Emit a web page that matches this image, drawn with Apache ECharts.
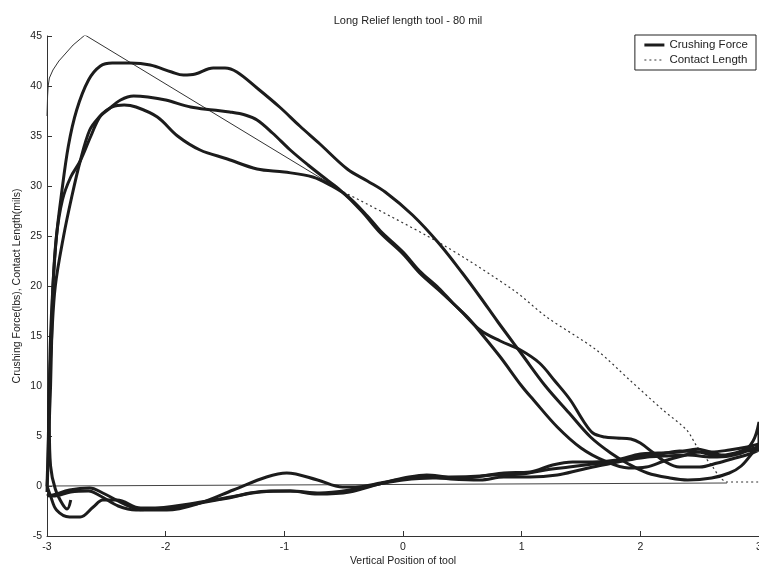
<!DOCTYPE html>
<html>
<head>
<meta charset="utf-8">
<script src="https://cdn.jsdelivr.net/npm/echarts@6/dist/echarts.min.js"></script>
<style>
html,body{margin:0;padding:0;background:#fff;}
#chart{width:759px;height:568px;}
</style>
</head>
<body>
<div id="chart"></div>
<script>
const titleText = 'Long Relief length tool - 80 mil';
const xName = 'Vertical Position of tool';
const yName = 'Crushing Force(lbs), Contact Length(mils)';

// Trace A (highest peak): loading then return
const loadA = [[-3.0,-0.6],[-2.99,3],[-2.98,10],[-2.97,15],[-2.95,20],[-2.92,25],[-2.88,29],[-2.82,34],[-2.75,37.6],[-2.65,40.6],[-2.55,42.0],[-2.45,42.3],[-2.3,42.3],[-2.13,42.1],[-1.95,41.4],[-1.85,41.1],[-1.75,41.2],[-1.6,41.8],[-1.5,41.8],[-1.4,41.4],[-1.23,39.8],[-1.04,37.9],[-0.87,36.0],[-0.7,34.2],[-0.47,31.7],[-0.3,30.5],[-0.15,29.4],[0.08,27.1],[0.3,24.3],[0.5,21.3],[0.65,18.9],[0.8,16.4],[1.0,13.2],[1.2,10.0],[1.4,7.3],[1.58,4.9],[1.75,3.3],[1.9,2.2],[2.06,1.3],[2.25,0.8],[2.4,0.6],[2.6,0.8],[2.75,1.3],[2.85,2.0],[2.95,3.4],[3.0,4.2]];
const returnA = [[2.9,3.9],[2.75,3.6],[2.6,3.4],[2.48,3.7],[2.33,3.4],[2.15,3.3],[2.0,3.2],[1.8,2.6],[1.6,2.4],[1.43,2.4],[1.26,2.1],[1.07,1.4],[0.85,1.3],[0.65,1.0],[0.4,0.9],[0.2,1.1],[0.05,0.9],[-0.19,0.3],[-0.4,-0.1],[-0.51,-0.1],[-0.72,0.6],[-0.98,1.3],[-1.15,0.9],[-1.43,-0.4],[-1.71,-1.7],[-1.99,-2.4],[-2.19,-2.4],[-2.33,-1.9],[-2.53,-0.7],[-2.64,-0.2],[-2.81,-0.4],[-2.95,-0.9],[-3.0,-1.0]];

// Trace B (middle peak)
const loadB = [[-3.0,0],[-2.99,4],[-2.98,10],[-2.96,15],[-2.93,20],[-2.86,25],[-2.79,29],[-2.72,32.5],[-2.64,35.6],[-2.56,36.9],[-2.49,37.6],[-2.38,38.6],[-2.27,39.0],[-2.15,38.9],[-2.0,38.6],[-1.79,37.9],[-1.6,37.6],[-1.46,37.4],[-1.33,37.1],[-1.23,36.6],[-1.1,35.3],[-0.95,33.6],[-0.8,32.1],[-0.65,30.7],[-0.53,29.6],[-0.35,27.5],[-0.19,25.3],[0.0,23.2],[0.14,21.3],[0.3,19.6],[0.48,17.6],[0.65,15.6],[0.82,14.5],[0.99,13.6],[1.15,12.3],[1.28,10.5],[1.41,8.6],[1.52,6.5],[1.6,5.3],[1.7,4.9],[1.8,4.8],[1.92,4.7],[2.0,4.3],[2.1,3.4],[2.2,2.5],[2.33,1.9],[2.5,1.9],[2.65,2.3],[2.8,2.8],[2.92,3.2],[3.0,3.6]];
const returnB = [[2.9,3.5],[2.75,3.0],[2.6,2.9],[2.4,3.1],[2.2,3.0],[2.06,2.9],[1.9,2.6],[1.77,2.3],[1.6,1.9],[1.49,1.6],[1.3,1.1],[1.07,0.9],[0.85,0.9],[0.65,0.6],[0.4,0.7],[0.2,0.9],[0.0,0.7],[-0.17,0.3],[-0.45,-0.6],[-0.72,-0.8],[-0.95,-0.5],[-1.12,-0.5],[-1.29,-0.7],[-1.43,-1.1],[-1.57,-1.4],[-1.8,-1.9],[-1.99,-2.2],[-2.21,-2.2],[-2.41,-1.4],[-2.53,-1.4],[-2.61,-2.1],[-2.72,-3.1],[-2.81,-3.1],[-2.92,-2.4],[-2.97,-1.0],[-3.0,0]];

// Trace C (lowest peak, with the hook at start)
const loadC = [[-2.8,-1.4],[-2.83,-2.3],[-2.87,-1.8],[-2.93,-0.3],[-2.97,2],[-2.98,6],[-2.97,10],[-2.96,15],[-2.95,20],[-2.92,25],[-2.87,28.6],[-2.8,30.9],[-2.72,32.5],[-2.63,35.0],[-2.55,37.0],[-2.45,37.9],[-2.35,38.1],[-2.25,37.9],[-2.07,36.9],[-1.9,35.0],[-1.71,33.6],[-1.48,32.7],[-1.23,31.7],[-1.0,31.4],[-0.76,30.9],[-0.6,30.0],[-0.47,29.0],[-0.3,27.0],[-0.19,25.5],[0.0,23.4],[0.14,21.5],[0.3,19.8],[0.42,18.3],[0.55,16.8],[0.65,15.4],[0.82,12.9],[1.0,10.0],[1.1,8.6],[1.3,5.9],[1.5,3.8],[1.7,2.5],[1.9,1.8],[2.05,1.9],[2.2,2.5],[2.35,3.0],[2.5,3.4],[2.7,3.1],[2.85,3.3],[2.95,4.5],[3.0,6.4],[3.0,3.9]];
const returnC = [[2.9,3.7],[2.8,3.3],[2.65,3.0],[2.5,3.4],[2.33,3.5],[2.17,3.2],[2.0,3.0],[1.83,2.5],[1.6,2.2],[1.4,1.9],[1.2,1.6],[1.0,1.2],[0.75,1.1],[0.5,0.8],[0.25,0.8],[0.0,0.6],[-0.2,0.2],[-0.45,-0.4],[-0.7,-0.7],[-0.95,-0.5],[-1.2,-0.6],[-1.5,-1.2],[-1.8,-1.8],[-2.05,-2.2],[-2.25,-2.4],[-2.4,-2.0],[-2.55,-1.0],[-2.65,-0.5],[-2.8,-0.6],[-2.95,-1.0],[-3.0,-0.8]];

// Contact length: solid early part, dotted remainder
const contactStart = [[-3.0,37.0],[-2.995,39.0],[-2.99,40.0],[-2.98,40.8],[-2.95,41.6],[-2.9,42.5],[-2.84,43.3],[-2.78,44.1],[-2.72,44.7],[-2.68,45.1],[-0.5,29.4]];
const contactLength = [[-0.5,29.4],[0.31,24.3],[0.93,19.6],[1.21,16.9],[1.63,13.6],[1.91,10.6],[2.19,7.6],[2.39,5.6],[2.48,3.9],[2.61,1.9],[2.67,0.9],[2.73,0.4],[3.0,0.4]];
const baseline = [[-3.0,0.0],[2.73,0.3]];

const xMin = -3, xMax = 3, xStep = 1;
const yMin = -5, yMax = 45, yStep = 5;

const FONT = 'Liberation Sans, Arial, sans-serif';
const INK = '#1c1c1c';

function thick(name, data) {
  return {
    name: name, type: 'line', data: data, smooth: 0.35, symbol: 'none',
    lineStyle: { color: INK, width: 3 }, itemStyle: { color: INK },
    z: 3, silent: true
  };
}

const chart = echarts.init(document.getElementById('chart'), null, { renderer: 'canvas' });
chart.setOption({
  backgroundColor: '#ffffff',
  animation: false,
  textStyle: { fontFamily: FONT },
  title: {
    text: titleText, left: 403, top: 10, textAlign: 'center',
    textStyle: { fontSize: 11, fontWeight: 'normal', color: '#222', fontFamily: FONT }
  },
  legend: {
    data: [
      { name: 'Crushing Force', itemStyle: { opacity: 0 }, lineStyle: { color: INK, width: 3, type: 'solid' } },
      { name: 'Contact Length', itemStyle: { opacity: 0 }, lineStyle: { color: '#333', width: 1, type: [2, 3] } }
    ],
    orient: 'vertical', right: 3, top: 35,
    backgroundColor: '#fff',
    borderColor: '#222', borderWidth: 1,
    padding: [4, 8, 4, 8], itemGap: 3,
    itemWidth: 20, itemHeight: 10,
    textStyle: { fontSize: 11.5, color: '#222', fontFamily: FONT }
  },
  grid: { left: 47, right: 0, top: 36, bottom: 32, containLabel: false, outerBoundsMode: 'none' },
  xAxis: {
    type: 'value', min: xMin, max: xMax, interval: xStep,
    name: xName, nameLocation: 'middle', nameGap: 20, nameMoveOverlap: false,
    nameTextStyle: { fontSize: 10.5, color: '#222', fontFamily: FONT },
    axisLine: { show: true, onZero: false, lineStyle: { color: '#333', width: 1 } },
    axisTick: { show: true, inside: true, length: 5, lineStyle: { color: '#333' } },
    axisLabel: { fontSize: 10.5, color: '#222', margin: 6, fontFamily: FONT },
    splitLine: { show: false }
  },
  yAxis: {
    type: 'value', min: yMin, max: yMax, interval: yStep,
    name: yName, nameLocation: 'middle', nameGap: 24, nameMoveOverlap: false,
    nameTextStyle: { fontSize: 10.5, color: '#222', fontFamily: FONT },
    axisLine: { show: true, onZero: false, lineStyle: { color: '#333', width: 1 } },
    axisTick: { show: true, inside: true, length: 5, lineStyle: { color: '#333' } },
    axisLabel: { fontSize: 10.5, color: '#222', margin: 5, fontFamily: FONT },
    splitLine: { show: false }
  },
  series: [
    {
      name: 'baseline', type: 'line', data: baseline, symbol: 'none',
      lineStyle: { color: '#444', width: 1 }, z: 1, silent: true
    },
    {
      name: 'contact-start', type: 'line', data: contactStart, symbol: 'none', smooth: false,
      lineStyle: { color: '#333', width: 1 }, z: 2, silent: true
    },
    {
      name: 'Contact Length', type: 'line', data: contactLength, symbol: 'none', smooth: 0.3,
      lineStyle: { color: '#333', width: 1.2, type: [2, 3] }, itemStyle: { color: '#333' },
      z: 2, silent: true
    },
    thick('Crushing Force', loadA.concat(returnA)),
    thick('Crushing Force', loadB.concat(returnB)),
    thick('Crushing Force', loadC.concat(returnC))
  ]
});
</script>
</body>
</html>
